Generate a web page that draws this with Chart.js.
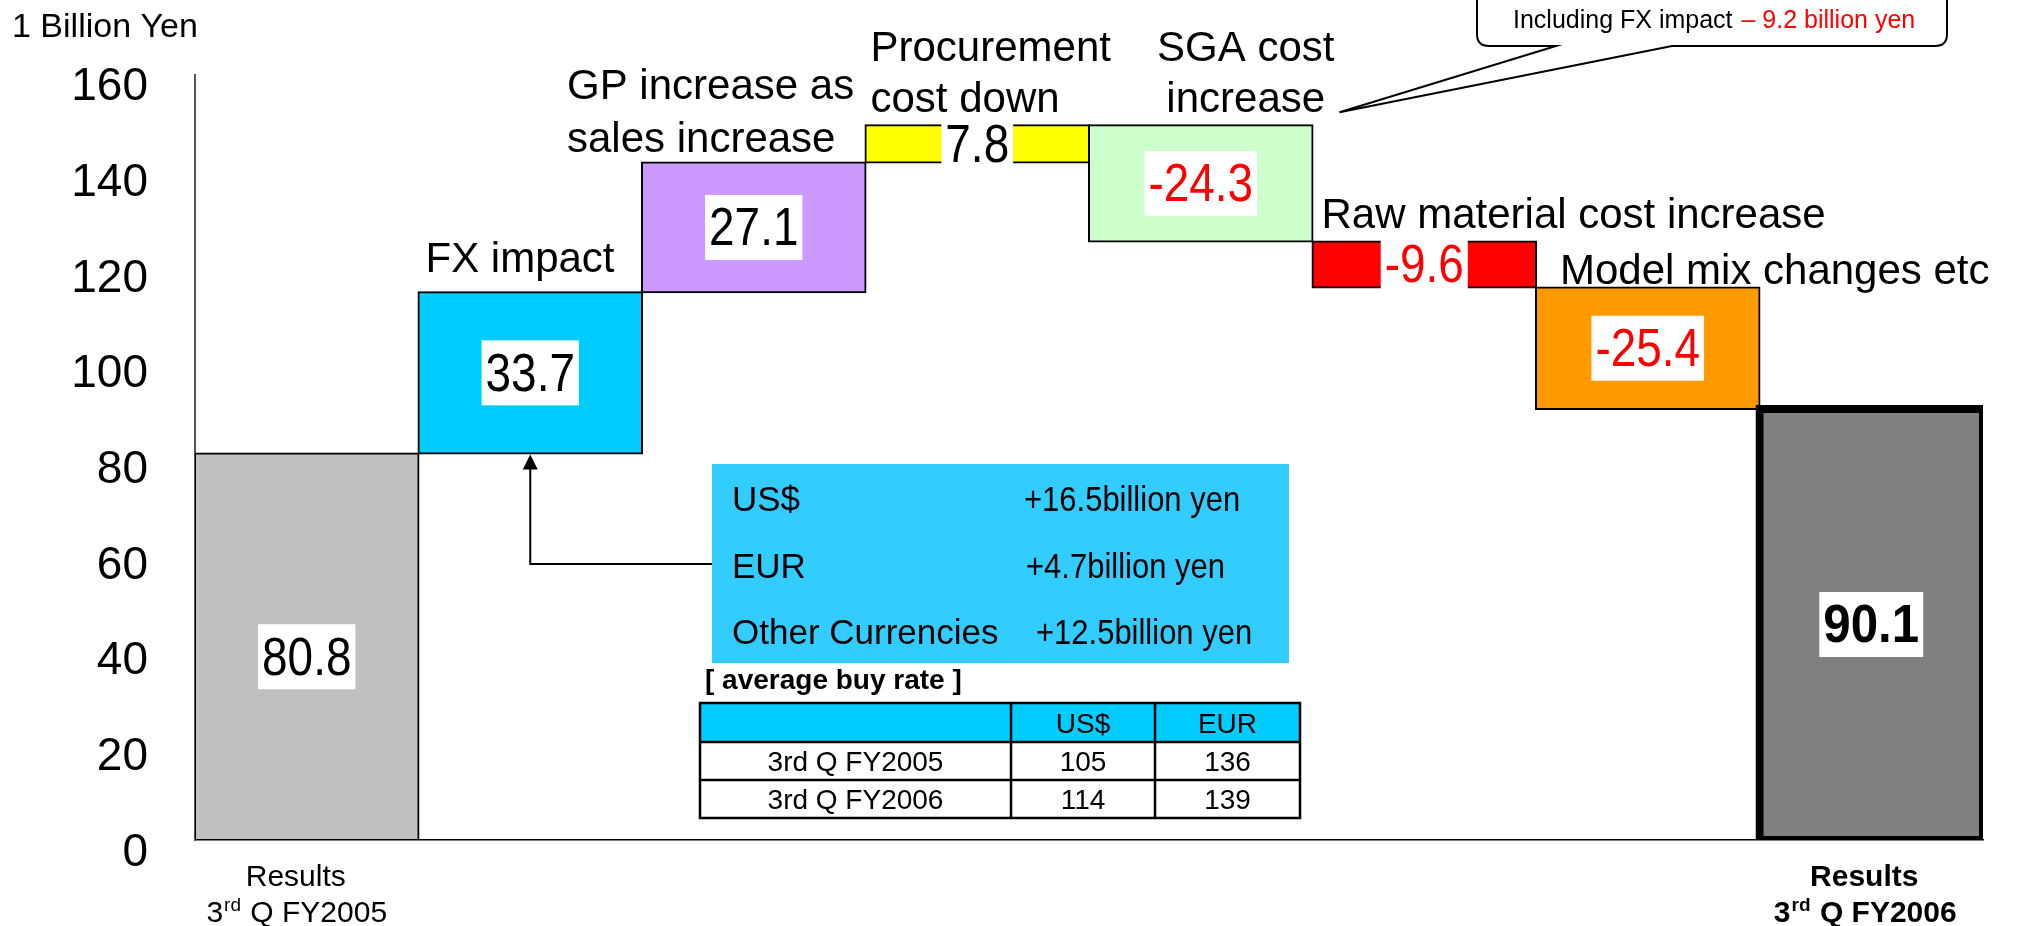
<!DOCTYPE html>
<html>
<head>
<meta charset="utf-8">
<script src="https://cdn.jsdelivr.net/npm/chart.js@4.4.1/dist/chart.umd.min.js"></script>
<style>
  html, body { margin: 0; padding: 0; background: #fff; }
  #wrap { position: relative; width: 2017px; height: 926px; }
</style>
</head>
<body>
<div id="wrap"><canvas id="chart"></canvas></div>
<script>
// Operating profit bridge, 1 billion yen
var categories = [
  ['Results', '3rd Q FY2005'],
  ['FX impact'],
  ['GP increase as', 'sales increase'],
  ['Procurement', 'cost down'],
  ['SGA cost', 'increase'],
  ['Raw material cost increase'],
  ['Model mix changes etc'],
  ['Results', '3rd Q FY2006']
];
var changes = [80.8, 33.7, 27.1, 7.8, -24.3, -9.6, -25.4, 90.1];
var isTotal = [true, false, false, false, false, false, false, true];
var barColors = ['#C0C0C0', '#00CCFF', '#CC99FF', '#FFFF00', '#CCFFCC', '#FF0000', '#FF9900', '#808080'];
var yTicks = [0, 20, 40, 60, 80, 100, 120, 140, 160];

// FX impact breakdown
var fxCurrencies = ['US$', 'EUR', 'Other Currencies'];
var fxAmounts = [16.5, 4.7, 12.5];

// average buy rate table
var rateHeader = ['', 'US$', 'EUR'];
var ratePeriods = ['3rd Q FY2005', '3rd Q FY2006'];
var rateUSD = [105, 114];
var rateEUR = [136, 139];

var sgaFxImpact = -9.2;

var FONT = '"Liberation Sans", Arial, sans-serif';

function font(size, bold) {
  return (bold ? 'bold ' : '') + size + 'px ' + FONT;
}

// the numbers in the original are set in a condensed face, so squeeze them
function squeezedText(ctx, str, x, y, sx) {
  ctx.save();
  ctx.translate(x, y);
  ctx.scale(sx, 1);
  ctx.fillText(str, 0, 0);
  ctx.restore();
}

// floating ranges for the waterfall
var ranges = [];
var running = 0;
for (var i = 0; i < changes.length; i++) {
  if (isTotal[i]) {
    ranges.push([0, changes[i]]);
    running = changes[i];
  } else {
    var next = Math.round((running + changes[i]) * 10) / 10;
    ranges.push([running, next]);
    running = next;
  }
}

function barBox(el) {
  var p = el.getProps(['x', 'y', 'base', 'width'], true);
  var top = Math.min(p.y, p.base), bottom = Math.max(p.y, p.base);
  return {
    left: p.x - p.width / 2, right: p.x + p.width / 2,
    top: top, bottom: bottom, cx: p.x, cy: (top + bottom) / 2
  };
}

// draws a line of text with "3rd" style ordinals as superscript
function ordinalLine(ctx, str, cx, y, size, bold) {
  var m = str.match(/^(\d+)(st|nd|rd|th)(.*)$/);
  ctx.textAlign = 'left';
  if (!m) {
    ctx.font = font(size, bold);
    ctx.fillText(str, cx - ctx.measureText(str).width / 2, y);
    return;
  }
  var sup = Math.round(size * 0.62);
  ctx.font = font(size, bold);
  var w1 = ctx.measureText(m[1]).width, w3 = ctx.measureText(m[3]).width;
  ctx.font = font(sup, bold);
  var w2 = ctx.measureText(m[2]).width;
  var x = cx - (w1 + w2 + w3) / 2;
  ctx.font = font(size, bold);
  ctx.fillText(m[1], x, y);
  ctx.font = font(sup, bold);
  ctx.fillText(m[2], x + w1 + 1, y - size * 0.36);
  ctx.font = font(size, bold);
  ctx.fillText(m[3], x + w1 + w2 + 2, y);
}

var annotations = {
  id: 'annotations',
  afterDatasetsDraw: function (chart) {
    var ctx = chart.ctx;
    var bars = chart.getDatasetMeta(0).data.map(barBox);
    var last = bars.length - 1;
    ctx.save();
    ctx.textBaseline = 'alphabetic';

    // unit
    ctx.fillStyle = '#000';
    ctx.font = font(34);
    ctx.textAlign = 'left';
    ctx.fillText('1 Billion Yen', 12, 37);

    // value labels on white boxes
    for (var i = 0; i < bars.length; i++) {
      var b = bars[i];
      var v = changes[i];
      var s = (v < 0 ? '-' : '') + Math.abs(v).toFixed(1);
      var bold = i === last;
      var sx = bold ? 0.93 : 0.85;
      ctx.font = font(bold ? 53 : 54, bold);
      var w = ctx.measureText(s).width * sx + 8;
      var cy = b.cy + (i === 0 ? 10 : 0);
      ctx.fillStyle = '#fff';
      ctx.fillRect(b.cx - w / 2, cy - 32.5, w, 65);
      ctx.fillStyle = v < 0 ? '#FF0000' : '#000';
      ctx.textAlign = 'center';
      ctx.textBaseline = 'middle';
      squeezedText(ctx, s, b.cx, cy + 3, sx);
      ctx.textBaseline = 'alphabetic';
    }

    // category names above the step bars
    ctx.fillStyle = '#000';
    ctx.font = font(42);
    ctx.textAlign = 'left';
    ctx.fillText(categories[1][0], bars[1].left + 7, bars[1].top - 20);
    ctx.fillText(categories[2][0], bars[2].left - 75, bars[2].top - 64);
    ctx.fillText(categories[2][1], bars[2].left - 75, bars[2].top - 11);
    ctx.fillText(categories[3][0], bars[3].left + 5, bars[3].top - 64);
    ctx.fillText(categories[3][1], bars[3].left + 5, bars[3].top - 13);
    ctx.textAlign = 'center';
    ctx.fillText(categories[4][0], bars[4].cx + 45, bars[4].top - 64);
    ctx.fillText(categories[4][1], bars[4].cx + 45, bars[4].top - 13);
    ctx.textAlign = 'left';
    ctx.fillText(categories[5][0], bars[5].left + 9, bars[5].top - 14);
    ctx.fillText(categories[6][0], bars[6].left + 24, bars[6].top - 3);

    // result labels under the axis
    [0, last].forEach(function (k) {
      var bold = k === last;
      var cx = bars[k].cx - (bold ? 7 : 11);
      ordinalLine(ctx, categories[k][0], cx, 886, 30, bold);
      ordinalLine(ctx, categories[k][1], cx, 922, 30, bold);
    });

    // callout for SGA
    var tipX = bars[4].right + 27, tipY = bars[4].top - 13;
    ctx.beginPath();
    ctx.moveTo(1477, -5);
    ctx.lineTo(1477, 34);
    ctx.quadraticCurveTo(1477, 46, 1489, 46);
    ctx.lineTo(1556, 46);
    ctx.lineTo(tipX, tipY);
    ctx.lineTo(1672, 46);
    ctx.lineTo(1935, 46);
    ctx.quadraticCurveTo(1947, 46, 1947, 34);
    ctx.lineTo(1947, -5);
    ctx.closePath();
    ctx.fillStyle = '#fff';
    ctx.fill();
    ctx.lineWidth = 2;
    ctx.strokeStyle = '#000';
    ctx.stroke();
    ctx.font = font(25);
    ctx.textAlign = 'left';
    ctx.fillStyle = '#000';
    var lead = 'Including FX impact ';
    ctx.fillText(lead, 1513, 28);
    ctx.fillStyle = '#FF0000';
    ctx.fillText('\u2013 ' + Math.abs(sgaFxImpact).toFixed(1) + ' billion yen', 1513 + ctx.measureText(lead).width + 2, 28);

    // FX breakdown box
    ctx.fillStyle = '#33CCFF';
    ctx.fillRect(712, 464, 577, 199);
    var rowY = [511, 578, 644];
    var valX = [1024, 1026, 1036];
    ctx.textAlign = 'left';
    for (var r = 0; r < fxCurrencies.length; r++) {
      ctx.fillStyle = '#000';
      ctx.font = font(35);
      ctx.fillText(fxCurrencies[r], 732, rowY[r]);
      squeezedText(ctx, '+' + fxAmounts[r].toFixed(1) + 'billion yen', valX[r], rowY[r], 0.885);
    }

    // arrow from the box to the FX bar
    var ax = bars[1].cx, ay = bars[1].bottom;
    ctx.strokeStyle = '#000';
    ctx.lineWidth = 2;
    ctx.beginPath();
    ctx.moveTo(712, 564);
    ctx.lineTo(ax, 564);
    ctx.lineTo(ax, ay + 14);
    ctx.stroke();
    ctx.beginPath();
    ctx.moveTo(ax, ay + 1);
    ctx.lineTo(ax - 7.5, ay + 16);
    ctx.lineTo(ax + 7.5, ay + 16);
    ctx.closePath();
    ctx.fillStyle = '#000';
    ctx.fill();

    // average buy rate table
    ctx.font = font(28, true);
    ctx.fillText('[ average buy rate ]', 705, 689);
    var cols = [700, 1011, 1155, 1300];
    var rows = [703, 742, 780, 818];
    ctx.fillStyle = '#00CCFF';
    ctx.fillRect(cols[0], rows[0], cols[3] - cols[0], rows[1] - rows[0]);
    ctx.fillStyle = '#fff';
    ctx.fillRect(cols[0], rows[1], cols[3] - cols[0], rows[3] - rows[1]);
    ctx.lineWidth = 2.5;
    ctx.strokeStyle = '#000';
    ctx.strokeRect(cols[0], rows[0], cols[3] - cols[0], rows[3] - rows[0]);
    ctx.beginPath();
    [rows[1], rows[2]].forEach(function (y) { ctx.moveTo(cols[0], y); ctx.lineTo(cols[3], y); });
    [cols[1], cols[2]].forEach(function (x) { ctx.moveTo(x, rows[0]); ctx.lineTo(x, rows[3]); });
    ctx.stroke();
    var cells = [rateHeader];
    for (var p = 0; p < ratePeriods.length; p++) {
      cells.push([ratePeriods[p], String(rateUSD[p]), String(rateEUR[p])]);
    }
    ctx.font = font(28);
    ctx.fillStyle = '#000';
    ctx.textAlign = 'center';
    for (var rr = 0; rr < cells.length; rr++) {
      for (var cc = 0; cc < 3; cc++) {
        ctx.fillText(cells[rr][cc], (cols[cc] + cols[cc + 1]) / 2, rows[rr + 1] - 9);
      }
    }
    ctx.restore();
  }
};

var ctx = document.getElementById('chart').getContext('2d');
new Chart(ctx, {
  type: 'bar',
  data: {
    labels: categories,
    datasets: [{
      data: ranges,
      backgroundColor: barColors,
      borderColor: '#000',
      borderWidth: isTotal.map(function (t, i) { return i === isTotal.length - 1 ? 8 : 2; }),
      inflateAmount: isTotal.map(function (t, i) { return i === isTotal.length - 1 ? 4 : 1; }),
      borderSkipped: false,
      barPercentage: 1,
      categoryPercentage: 1
    }]
  },
  options: {
    responsive: true,
    maintainAspectRatio: false,
    animation: false,
    devicePixelRatio: 1,
    layout: { padding: { top: 70, right: 34, bottom: 0, left: 0 } },
    plugins: { legend: { display: false }, tooltip: { enabled: false } },
    scales: {
      x: {
        grid: { display: false },
        ticks: { display: false },
        border: { display: true, color: '#000', width: 1.5 },
        afterFit: function (scale) { scale.height = 86; }
      },
      y: {
        min: 0,
        max: 160,
        afterBuildTicks: function (scale) {
          scale.ticks = yTicks.map(function (v) { return { value: v }; });
        },
        grid: { display: false, drawTicks: false },
        border: { display: true, color: '#555', width: 2 },
        ticks: {
          color: '#000',
          font: { family: FONT, size: 46 },
          padding: 47,
          labelOffset: 13
        },
        afterFit: function (scale) { scale.width = 195; }
      }
    }
  },
  plugins: [annotations]
});
</script>
</body>
</html>
